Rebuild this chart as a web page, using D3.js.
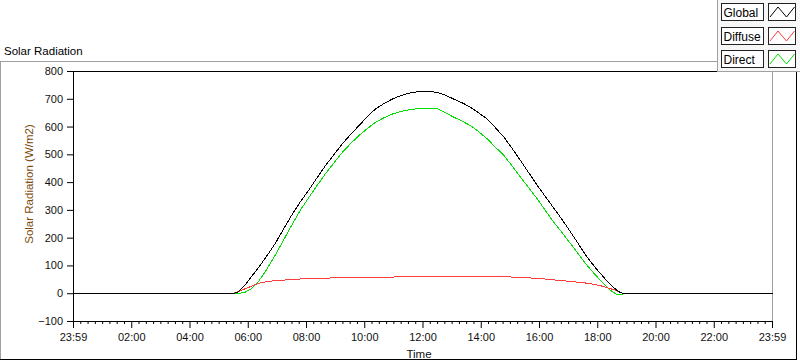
<!DOCTYPE html>
<html><head><meta charset="utf-8">
<script src="https://cdn.jsdelivr.net/npm/d3@7"></script>
<style>
html,body{margin:0;padding:0;background:#fff;}
svg{display:block;font-family:"Liberation Sans",Arial,sans-serif;}
</style></head>
<body><svg id="c" width="800" height="361"></svg>
<script>
// minutes after midnight (-1 = 23:59 of the previous day)
const timeMin = [-1,326,338,345,353,364,381,398,415,432,449,466,484,501,518,536,553,570,587,604,621,638,656,673,690,707,724,748,765,782,800,817,834,851,868,886,903,920,937,954,971,988,1006,1023,1040,1057,1074,1091,1100,1109,1118,1124,1129,1133,1439];
const globalRad = [0,0,6,18,33,58,96,138,182,234,284,330,374,418,461,502,540,574,605,637,665,684,701,713,722,727,729,725,715,701,687,671,651,629,598,563,522,479,435,391,350,309,266,222,177,132,94,60,42,26,13,6,2,0,0];
const directRad = [0,0,1,3,6,16,46,90,140,194,248,300,347,390,432,472,509,541,569,594,617,633,647,656,662,666,667,666,652,636,621,605,583,558,528,497,459,419,381,342,300,258,219,180,141,102,68,36,20,7,-2,-4,-2,0,0];
const diffuseRad = [0,0,7,13,18,26,38,44,47,49,51,53,54,55,56,57,58,58,59,59,60,60,60,61,61,61,61,61,62,62,62,63,63,62,62,61,60,59,57,55,53,50,47,44,41,38,33,26,21,16,11,7,3,0,0];
const seriesNames = ["Global","Diffuse","Direct"];
const seriesColors = ["#000000","#ff3c3c","#00e000"];
const xTickMin = [-1,119,239,359,479,599,719,839,959,1079,1199,1319,1439];
const xTickLabels = ["23:59","02:00","04:00","06:00","08:00","10:00","12:00","14:00","16:00","18:00","20:00","22:00","23:59"];
const yTicks = [-100,0,100,200,300,400,500,600,700,800];

const svg = d3.select("#c");
const L=73, R=772, T=70, B=321;
const x = d3.scaleLinear().domain([-1,1439]).range([L,R]);
const y = d3.scaleLinear().domain([-100,800]).range([B,T+1]);

// outer frame
svg.append("line").attr("x1",0).attr("x2",717).attr("y1",61.5).attr("y2",61.5).attr("stroke","#a0a0a0");
svg.append("line").attr("x1",0.5).attr("x2",0.5).attr("y1",61).attr("y2",360).attr("stroke","#a0a0a0");
svg.append("line").attr("x1",0).attr("x2",797).attr("y1",359.5).attr("y2",359.5).attr("stroke","#000");
svg.append("line").attr("x1",796.5).attr("x2",796.5).attr("y1",72).attr("y2",360).attr("stroke","#000");

// title
svg.append("text").attr("x",4).attr("y",55).attr("font-size","11.5px").attr("fill","#000").text("Solar Radiation");

// plot area borders
svg.append("line").attr("x1",L).attr("x2",R+1).attr("y1",T+1.5).attr("y2",T+1.5).attr("stroke","#000");
svg.append("line").attr("x1",R+0.5).attr("x2",R+0.5).attr("y1",T+1).attr("y2",B+1).attr("stroke","#a0a0a0");

// series lines
const gLines = svg.append("g").attr("transform","translate(0.5,0.5)");
const line = d3.line().x((d,i)=>x(timeMin[i])).y(d=>y(d));
const order = [[directRad,2],[diffuseRad,1],[globalRad,0]];
order.forEach(([arr,k])=>{
  gLines.append("path").datum(arr).attr("d",line).attr("fill","none")
    .attr("stroke",seriesColors[k]).attr("stroke-width",1).attr("shape-rendering","crispEdges");
});

// y axis
const yAxis = svg.append("g").attr("transform",`translate(${L},0)`)
  .call(d3.axisLeft(y).tickValues(yTicks).tickSize(6).tickSizeOuter(0).tickPadding(4));
yAxis.select(".domain").attr("stroke","#000");
yAxis.selectAll("text").attr("font-size","11px").attr("fill","#111").attr("font-family","Liberation Sans, Arial, sans-serif");

// x axis minor ticks
const minor = [];
for(let k=0;k<12;k++){ for(let j=1;j<8;j++){ minor.push(xTickMin[k] + j*(xTickMin[k+1]-xTickMin[k])/8); } }
const xMinor = svg.append("g").attr("transform",`translate(0,${B})`)
  .call(d3.axisBottom(x).tickValues(minor).tickSize(3).tickSizeOuter(0).tickFormat(""));
xMinor.select(".domain").remove();

// x axis major
const xAxis = svg.append("g").attr("transform",`translate(0,${B})`)
  .call(d3.axisBottom(x).tickValues(xTickMin).tickSize(7).tickSizeOuter(0).tickPadding(5)
    .tickFormat((d,i)=>xTickLabels[i]));
xAxis.select(".domain").attr("stroke","#000");
xAxis.selectAll("text").attr("font-size","11px").attr("fill","#111").attr("font-family","Liberation Sans, Arial, sans-serif");

// axis titles
svg.append("text").attr("transform","translate(33,184) rotate(-90)").attr("text-anchor","middle")
  .attr("font-size","11.5px").attr("fill","#7a4a10").text("Solar Radiation (W/m2)");
svg.append("text").attr("x",419).attr("y",357.5).attr("text-anchor","middle")
  .attr("font-size","11.5px").attr("fill","#111").text("Time");

// legend
const lg = svg.append("g");
lg.append("rect").attr("x",717).attr("y",0).attr("width",83).attr("height",72).attr("fill","#f7f7f7");
lg.append("line").attr("x1",717.5).attr("x2",717.5).attr("y1",0).attr("y2",72).attr("stroke","#a0a0a0");
lg.append("line").attr("x1",717).attr("x2",800).attr("y1",71.5).attr("y2",71.5).attr("stroke","#a0a0a0");
const rowTop = [3,26.5,50];
seriesNames.forEach((name,i)=>{
  const ty = Math.round(rowTop[i]);
  lg.append("rect").attr("x",721.5).attr("y",ty+0.5).attr("width",42).attr("height",17)
    .attr("fill","#fff").attr("stroke","#222");
  lg.append("text").attr("x",723.5).attr("y",ty+14).attr("font-size","12px").attr("fill","#000").text(name);
  lg.append("rect").attr("x",768.5).attr("y",ty+0.5).attr("width",27).attr("height",17)
    .attr("fill","#fff").attr("stroke","#222");
  lg.append("polyline").attr("points",[[770,ty+14],[778,ty+4],[786.5,ty+14],[794.5,ty+4]].map(p=>p.join(",")).join(" "))
    .attr("fill","none").attr("stroke",seriesColors[i]).attr("stroke-width",1);
});
</script>
</body></html>
